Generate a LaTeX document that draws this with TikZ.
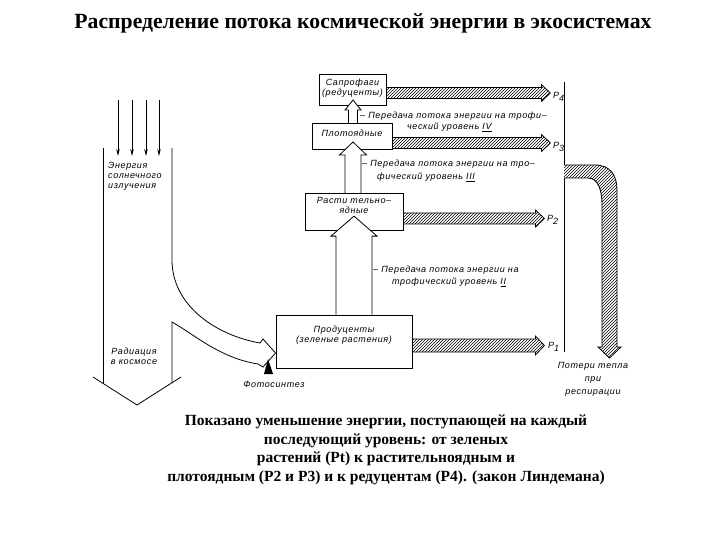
\documentclass[tikz,border=0pt]{standalone}
\usepackage{fontspec}
\setmainfont{Liberation Serif}
\newfontfamily\labfont[LetterSpace=7]{Liberation Sans}
\usetikzlibrary{patterns,arrows.meta,calc}
\newcommand\hatcharrow[3]{%
  \begin{scope}[shift={(#1)}]
    \fill[pattern=north east lines] (0,-#3) -- ({#2-9},-#3) -- ({#2-9},{-#3-3}) -- (#2,0) -- ({#2-9},{#3+3}) -- ({#2-9},#3) -- (0,#3) -- cycle;
    \draw[line width=0.8pt] (0,-#3) -- ({#2-9},-#3) -- ({#2-9},{-#3-3}) -- (#2,0) -- ({#2-9},{#3+3}) -- ({#2-9},#3) -- (0,#3);
  \end{scope}}
\newcommand\hollowup[5]{%
  \draw[line width=0.8pt, fill=white, shift={(#1)}] (-#3,0) -- (-#3,{-(#2-#5)}) -- (-#4,{-(#2-#5)}) -- (0,-#2) -- (#4,{-(#2-#5)}) -- (#3,{-(#2-#5)}) -- (#3,0);}
\begin{document}
\begin{tikzpicture}[x=1pt,y=-1pt,
  box/.style={draw, line width=0.8pt, inner sep=0, fill=white},
  lab/.style={font=\labfont\itshape\fontsize{9}{10}\selectfont, inner sep=0},
  boxtxt/.style={font=\labfont\itshape\fontsize{9}{10}\selectfont, inner sep=0, align=center},
  ray/.style={line width=0.8pt, -{Stealth[length=7pt,width=3.5pt]}},
  wall/.style={line width=0.8pt}]
\useasboundingbox (0,0) rectangle (720,540);

% title
\node[font=\bfseries\fontsize{21}{24}\selectfont] (title) at (363,23) {\resizebox{577pt}{!}{Распределение потока космической энергии в экосистемах}};

% boxes
\node[box, minimum width=67pt, minimum height=31pt] (sap) at (352.5,89.5) {};
\node[box, minimum width=80pt, minimum height=26pt] (carn) at (352,136) {};
\node[box, minimum width=98pt, minimum height=37pt] (herb) at (354,211.5) {};
\node[box, minimum width=136pt, minimum height=53pt] (prod) at (344,341.5) {};
\node[boxtxt] (tsap) at (352.5,88.5) {Сапрофаги\\(редуценты)};
\node[boxtxt] (tcarn) at (352,133) {Плотоядные};
\node[boxtxt] (therb) at (354,205) {Расти тельно–\\ядные};
\node[boxtxt] (tprod) at (344,335) {Продуценты\\(зеленые  растения)};

% hollow arrows up
\hollowup{herb.south |- prod.north}{98.5}{18}{23}{20}
\hollowup{353,193}{51}{8}{13.5}{13}
\hollowup{353,123}{23}{4.5}{8}{10}

% hatched arrows
\hatcharrow{sap.east |- 0,93}{164}{5.5}
\hatcharrow{carn.east |- 0,143}{158}{5.5}
\hatcharrow{herb.east |- 0,218.5}{141}{5.5}
\hatcharrow{prod.east |- 0,345.5}{132}{6.5}
\node[lab, anchor=west] (p4) at (553,97) {P\raisebox{-3pt}{4}};
\node[lab, anchor=west] (p3) at (553,147) {P\raisebox{-3pt}{3}};
\node[lab, anchor=west] (p2) at (547,220) {P\raisebox{-3pt}{2}};
\node[lab, anchor=west] (p1) at (548,347) {P\raisebox{-3pt}{1}};

% transfer labels
\node[lab, anchor=west] (l4a) at (360,116) {– Передача потока  энергии на трофи–};
\node[lab, anchor=west] (l4b) at (407,127) {ческий уровень \underline{IV}};
\node[lab, anchor=west] (l3a) at (362,164) {– Передача потока энергии на тро–};
\node[lab, anchor=west] (l3b) at (377,177) {фический  уровень \underline{III}};
\node[lab, anchor=west] (l2a) at (373,270) {– Передача потока энергии на};
\node[lab, anchor=west] (l2b) at (392,282) {трофический уровень \underline{II}};

% left column: incoming solar radiation
\coordinate (r1s) at (118,100); \coordinate (r1e) at (118,156);
\coordinate (r2s) at (132,100); \coordinate (r2e) at (132,156);
\coordinate (r3s) at (146,100); \coordinate (r3e) at (146,156);
\coordinate (r4s) at (159,100); \coordinate (r4e) at (159,156);
\draw[ray] (r1s) -- (r1e);
\draw[ray] (r2s) -- (r2e);
\draw[ray] (r3s) -- (r3e);
\draw[ray] (r4s) -- (r4e);
\draw[wall] (103,148) -- (103,383.5);
\draw[wall] (172,148) -- (172,260) .. controls (172,305) and (215,335) .. (260,343)
  -- (263,339) -- (prod.west |- 0,353) -- (263,367) -- (258,364)
  .. controls (220,358) and (195,335) .. (172,322) -- (172,383);
\draw[wall] (93,377) -- (137,405) -- (181,377);
\fill (268,359) -- (264,374) -- (273,374) -- cycle;
\node[lab, anchor=north] (photo) at (274,381) {Фотосинтез};
\node[lab, anchor=north west, align=left] (sun) at (108,162) {Энергия\\солнечного\\излучения};
\node[lab, align=center] (space) at (134,356) {Радиация\\в космосе};

% right: heat losses
\draw[wall] (564,82) -- (564,165);
\draw[wall] (564,178) -- (564,352);
\fill[pattern=north east lines] (564,165) -- (595,165) .. controls (610,165) and (617,175) .. (617,190)
  -- (617,347) -- (621,347) -- (609.5,358) -- (598,347) -- (602,347) -- (602,205)
  .. controls (602,190) and (598,178) .. (588,178) -- (564,178) -- cycle;
\draw[wall] (564,165) -- (595,165) .. controls (610,165) and (617,175) .. (617,190)
  -- (617,347) -- (621,347) -- (609.5,358) -- (598,347) -- (602,347) -- (602,205)
  .. controls (602,190) and (598,178) .. (588,178) -- (564,178);
\node[lab, align=center, font=\labfont\itshape\fontsize{9}{13}\selectfont] (loss) at (593,379) {Потери тепла\\при\\респирации};

% caption
\node[align=center, font=\bfseries\fontsize{15.5}{18.5}\selectfont] (cap) at (386,450) {Показано уменьшение энергии, поступающей на каждый\\последующий уровень: от зеленых\\растений (Pt) к растительноядным и\\плотоядным (P2 и P3) и к редуцентам (P4). (закон Линдемана)};
\end{tikzpicture}
\end{document}
